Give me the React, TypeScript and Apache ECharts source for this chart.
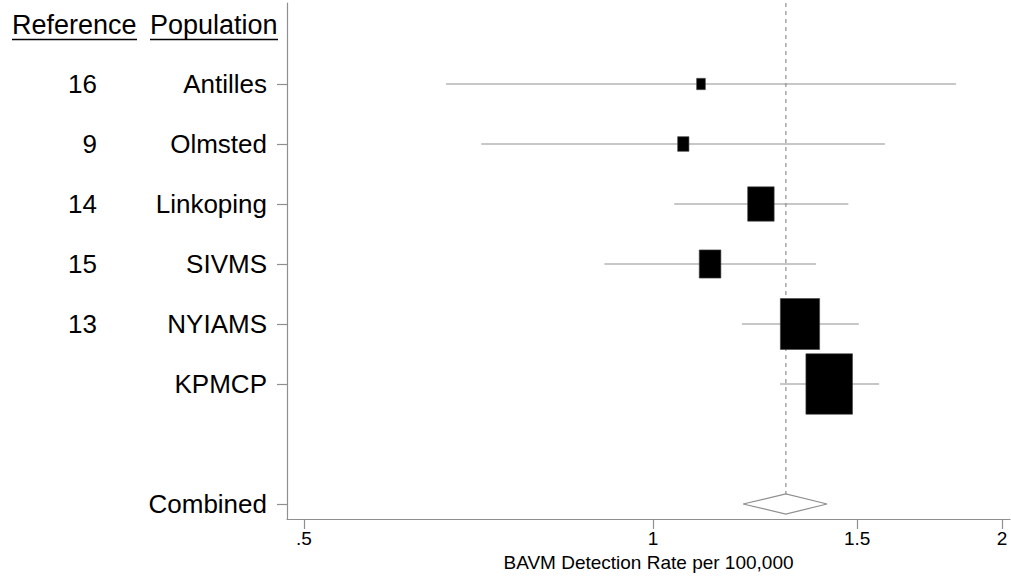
import React, { useEffect, useRef } from "react";
import * as echarts from "echarts";

// ---- data ----
const populations = ["Antilles", "Olmsted", "Linkoping", "SIVMS", "NYIAMS", "KPMCP"];
const references = ["16", "9", "14", "15", "13", ""];
const estimates = [1.1, 1.062, 1.239, 1.12, 1.339, 1.419];
const lowerCI = [0.663, 0.711, 1.043, 0.908, 1.193, 1.287];
const upperCI = [1.825, 1.585, 1.474, 1.382, 1.505, 1.567];
const weights = [1.5, 2.5, 13.8, 9.2, 30.3, 42.7]; // percent
const combinedLabel = "Combined";
const combinedEstimate = 1.302;
const combinedLower = 1.196;
const combinedUpper = 1.413;
const xTickValues = [0.5, 1, 1.5, 2];
const xTickLabels = [".5", "1", "1.5", "2"];

const FONT = "'Liberation Sans', Arial, Helvetica, sans-serif";
const GRAY = "#8f8f8f";
const COMBINED_ROW = 7;
const Y_MIN = -1.35;
const Y_MAX = 7.25;
const X_MIN = Math.log(0.4834);
const X_MAX = Math.log(2.032);
const DIAMOND_HALF = 0.167;

export default function App() {
  const ref = useRef<HTMLDivElement>(null);

  useEffect(() => {
    if (!ref.current) return;
    const chart = echarts.init(ref.current, undefined, { renderer: "svg" });

    const boxSizes = weights.map((w) => {
      const area = w * 66.1;
      const h = Math.sqrt(area / 0.77);
      return [h * 0.77, h];
    });

    const yTickVals = [0, 1, 2, 3, 4, 5, COMBINED_ROW];
    const yLabel = (v: number) => {
      const i = Math.round(v);
      if (i === COMBINED_ROW) return combinedLabel;
      return populations[i] ?? "";
    };

    const option: any = {
      animation: false,
      backgroundColor: "#fff",
      textStyle: { fontFamily: FONT },
      grid: { left: 287, right: 1, top: 3, bottom: 58, containLabel: false },
      xAxis: {
        type: "value",
        min: X_MIN,
        max: X_MAX,
        splitLine: { show: false },
        axisLine: { show: true, onZero: false, lineStyle: { color: GRAY, width: 1.2 } },
        axisTick: {
          show: true,
          length: 10,
          customValues: xTickValues.map((v) => Math.log(v)),
          lineStyle: { color: GRAY, width: 1.2 },
        },
        axisLabel: {
          customValues: xTickValues.map((v) => Math.log(v)),
          formatter: (v: number) => {
            let best = 0;
            xTickValues.forEach((t, i) => {
              if (Math.abs(Math.log(t) - v) < Math.abs(Math.log(xTickValues[best]) - v)) best = i;
            });
            return xTickLabels[best];
          },
          color: "#000",
          fontSize: 19,
          fontFamily: FONT,
          margin: 10,
        },
        name: "BAVM Detection Rate per 100,000",
        nameLocation: "middle",
        nameGap: 33,
        nameTextStyle: { color: "#000", fontSize: 19, fontFamily: FONT },
      },
      yAxis: [
        {
          type: "value",
          inverse: true,
          min: Y_MIN,
          max: Y_MAX,
          splitLine: { show: false },
          axisLine: { show: true, onZero: false, lineStyle: { color: GRAY, width: 1.2 } },
          axisTick: {
            show: true,
            length: 10,
            customValues: yTickVals,
            lineStyle: { color: GRAY, width: 1.2 },
          },
          axisLabel: {
            customValues: yTickVals,
            formatter: yLabel,
            color: "#000",
            fontSize: 26,
            fontFamily: FONT,
            margin: 20,
          },
        },
        {
          type: "value",
          inverse: true,
          position: "left",
          offset: 170,
          min: Y_MIN,
          max: Y_MAX,
          splitLine: { show: false },
          axisLine: { show: false, onZero: false },
          axisTick: { show: false },
          axisLabel: {
            customValues: [0, 1, 2, 3, 4],
            formatter: (v: number) => references[Math.round(v)] ?? "",
            color: "#000",
            fontSize: 26,
            fontFamily: FONT,
            margin: 20,
          },
        },
      ],
      graphic: [
        {
          type: "text",
          left: 12,
          top: 11,
          style: { text: "Reference", font: `27px ${FONT}`, fill: "#000" },
        },
        {
          type: "text",
          left: 150,
          top: 11,
          style: { text: "Population", font: `27px ${FONT}`, fill: "#000" },
        },
        {
          type: "line",
          shape: { x1: 12, y1: 39.5, x2: 137, y2: 39.5 },
          style: { stroke: "#000", lineWidth: 1.5 },
        },
        {
          type: "line",
          shape: { x1: 150, y1: 39.5, x2: 278, y2: 39.5 },
          style: { stroke: "#000", lineWidth: 1.5 },
        },
      ],
      series: [
        {
          type: "custom",
          name: "ref-line",
          z: 1,
          data: [[Math.log(combinedEstimate), Y_MIN, COMBINED_ROW - DIAMOND_HALF]],
          encode: { x: 0, y: [1, 2] },
          renderItem: (params: any, api: any) => {
            const a = api.coord([api.value(0), api.value(1)]);
            const b = api.coord([api.value(0), api.value(2)]);
            return {
              type: "line",
              shape: { x1: a[0], y1: a[1], x2: b[0], y2: b[1] },
              style: { stroke: GRAY, lineWidth: 1.2, lineDash: [4, 4] },
            };
          },
        },
        {
          type: "custom",
          name: "ci",
          z: 2,
          data: populations.map((_, i) => [Math.log(lowerCI[i]), Math.log(upperCI[i]), i]),
          encode: { x: [0, 1], y: 2 },
          renderItem: (params: any, api: any) => {
            const a = api.coord([api.value(0), api.value(2)]);
            const b = api.coord([api.value(1), api.value(2)]);
            return {
              type: "line",
              shape: { x1: a[0], y1: a[1], x2: b[0], y2: b[1] },
              style: { stroke: GRAY, lineWidth: 1.2 },
            };
          },
        },
        {
          type: "scatter",
          name: "estimates",
          z: 3,
          symbol: "rect",
          data: populations.map((_, i) => [Math.log(estimates[i]), i]),
          symbolSize: (_v: any, p: any) => boxSizes[p.dataIndex],
          itemStyle: { color: "#000", opacity: 1, borderColor: "#444", borderWidth: 0.6 },
        },
        {
          type: "custom",
          name: "combined",
          z: 3,
          data: [[Math.log(combinedLower), Math.log(combinedEstimate), Math.log(combinedUpper), COMBINED_ROW]],
          encode: { x: [0, 1, 2], y: 3 },
          renderItem: (params: any, api: any) => {
            const row = api.value(3);
            const l = api.coord([api.value(0), row]);
            const t = api.coord([api.value(1), row - DIAMOND_HALF]);
            const r = api.coord([api.value(2), row]);
            const bt = api.coord([api.value(1), row + DIAMOND_HALF]);
            return {
              type: "polygon",
              shape: { points: [l, t, r, bt] },
              style: { fill: "#fff", stroke: GRAY, lineWidth: 1.2 },
            };
          },
        },
      ],
    };

    chart.setOption(option);
    return () => chart.dispose();
  }, []);

  return (
    <div
      ref={ref}
      style={{ position: "fixed", left: 0, top: 0, width: 1011, height: 577, background: "#fff" }}
    />
  );
}
